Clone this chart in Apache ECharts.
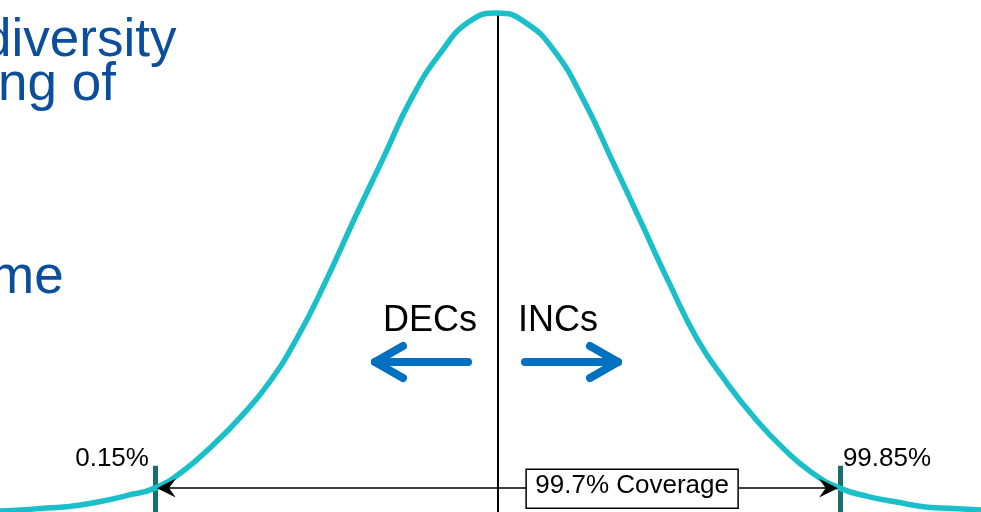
<!DOCTYPE html>
<html>
<head>
<meta charset="utf-8">
<script src="https://cdn.jsdelivr.net/npm/echarts@6/dist/echarts.min.js"></script>
<style>
html,body{margin:0;padding:0;background:#fff;}
#main{width:981px;height:512px;}
</style>
</head>
<body>
<div id="main"></div>
<script>
// Curve positions in standard-deviation units (x) and relative height (y)
const curveX = [-4.357,-4.25,-4.0,-3.75,-3.5,-3.25,-3.0,-2.75,-2.5,-2.25,-2.0,-1.75,-1.5,-1.25,-1.0,-0.75,-0.5,-0.25,0,0.25,0.5,0.75,1.0,1.25,1.5,1.75,2.0,2.25,2.5,2.75,3.0,3.25,3.5,3.75,4.0,4.236];
const curveY = [0.002,0.003,0.007,0.011,0.020,0.033,0.048,0.083,0.133,0.191,0.260,0.352,0.466,0.591,0.712,0.833,0.923,0.986,1.004,0.984,0.927,0.831,0.710,0.587,0.463,0.348,0.263,0.190,0.129,0.080,0.048,0.031,0.020,0.010,0.007,0.004];
const lowerLimit = -3;
const upperLimit = 3;
const lowerLabel = '0.15%';
const upperLabel = '99.85%';
const coverageLabel = '99.7% Coverage';
const coverageLevel = 0.048;
const limitTickHeight = 0.093;
const slideLines = ['diversity', 'ng of', 'me'];

const FONT = '"Liberation Sans", Arial, sans-serif';
const chart = echarts.init(document.getElementById('main'), null, {renderer: 'canvas'});
const data = curveX.map((x, i) => [x, curveY[i]]);

chart.setOption({
  animation: false,
  backgroundColor: '#ffffff',
  grid: {left: 0, right: 0, top: 0, bottom: 0},
  xAxis: {type: 'value', min: -4.357, max: 4.236, show: false},
  yAxis: {type: 'value', min: 0, max: 1.03, show: false},
  series: [{
    type: 'line',
    data: data,
    smooth: 0.5,
    symbol: 'none',
    clip: false,
    z: 5,
    lineStyle: {color: '#1BBFC9', width: 5.5},
    markLine: {
      silent: true,
      symbol: ['none', 'none'],
      label: {show: false},
      animation: false,
      data: [
        [{coord: [0, 0], lineStyle: {color: '#000', width: 2, type: 'solid'}}, {coord: [0, 1.004]}],
        [{coord: [lowerLimit, coverageLevel], lineStyle: {color: '#000', width: 1.5, type: 'solid'}}, {coord: [upperLimit, coverageLevel]}],
        [{coord: [lowerLimit, 0], lineStyle: {color: '#17706F', width: 5, type: 'solid'}}, {coord: [lowerLimit, limitTickHeight]}],
        [{coord: [upperLimit, 0], lineStyle: {color: '#17706F', width: 5, type: 'solid'}}, {coord: [upperLimit, limitTickHeight]}]
      ]
    }
  }]
});

const p = (x, y) => chart.convertToPixel({gridIndex: 0}, [x, y]);
const lo = p(lowerLimit, coverageLevel);
const hi = p(upperLimit, coverageLevel);
const loTop = p(lowerLimit, limitTickHeight);
const hiTop = p(upperLimit, limitTickHeight);
const boxCenter = p(1.18, coverageLevel);

const arrowStyle = {stroke: '#000', lineWidth: 1.8, fill: '#000', lineJoin: 'miter'};
const blue = '#0070C0';
const bigArrow = {stroke: blue, lineWidth: 8, lineCap: 'round', lineJoin: 'round', fill: null};
// text helper: y given as baseline; shift to em middle
const txt = (s, x, base, size, align, color, z) => ({
  type: 'text', z: z, x: x, y: base - 0.35 * size,
  style: {text: s, font: size + 'px ' + FONT, fill: color, align: align, verticalAlign: 'middle'}
});

chart.setOption({
  graphic: [
    // coverage arrowheads (stealth style)
    {type: 'polygon', z: 10, shape: {points: [[lo[0] + 18, lo[1] - 7], [lo[0] + 4, lo[1]], [lo[0] + 18, lo[1] + 7], [lo[0] + 13, lo[1]]]}, style: arrowStyle},
    {type: 'polygon', z: 10, shape: {points: [[hi[0] - 18, hi[1] - 7], [hi[0] - 4, hi[1]], [hi[0] - 18, hi[1] + 7], [hi[0] - 13, hi[1]]]}, style: arrowStyle},
    // coverage box
    {type: 'rect', z: 20, shape: {x: boxCenter[0] - 106, y: boxCenter[1] - 19, width: 212, height: 39},
      style: {fill: '#fff', stroke: '#000', lineWidth: 1.5}},
    txt(coverageLabel, boxCenter[0], 495, 26, 'center', '#000', 21),
    // limit labels
    txt(lowerLabel, loTop[0] - 6, 468, 26, 'right', '#000', 20),
    txt(upperLabel, hiTop[0] + 3, 468, 26, 'left', '#000', 20),
    // DECs / INCs
    txt('DECs', 477, 334, 36, 'right', '#000', 20),
    txt('INCs', 518, 334, 36, 'left', '#000', 20),
    {type: 'polyline', z: 20, shape: {points: [[468, 362], [375, 362]]}, style: bigArrow},
    {type: 'polyline', z: 20, shape: {points: [[403, 346], [375, 362], [403, 378]]}, style: bigArrow},
    {type: 'polyline', z: 20, shape: {points: [[525, 362], [618, 362]]}, style: bigArrow},
    {type: 'polyline', z: 20, shape: {points: [[590, 346], [618, 362], [590, 378]]}, style: bigArrow},
    // clipped slide text at the left
    txt(slideLines[0], -18, 60, 53, 'left', '#0B4E9B', 1),
    txt(slideLines[1], -2, 104, 53, 'left', '#0B4E9B', 1),
    txt(slideLines[2], -10, 297, 53, 'left', '#0B4E9B', 1)
  ]
});
</script>
</body>
</html>
